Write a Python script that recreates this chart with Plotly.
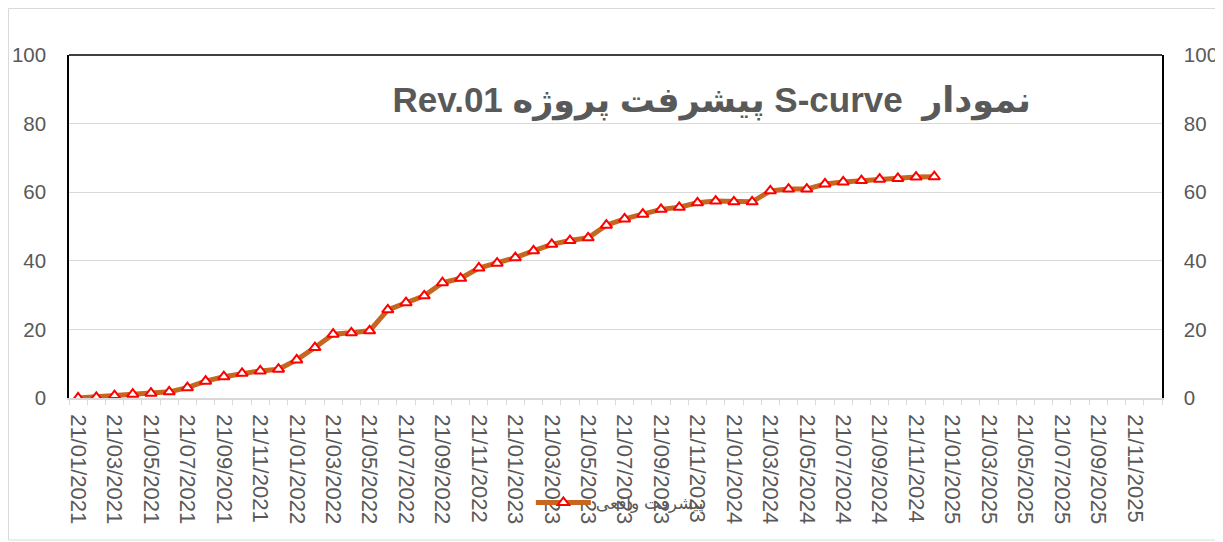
import plotly.graph_objects as go

# Monthly categories (21st of each month), Jan 2021 .. Dec 2025
years = [2021, 2022, 2023, 2024, 2025]
month_nums = ["01", "02", "03", "04", "05", "06", "07", "08", "09", "10", "11", "12"]
months = [f"21/{m}/{y}" for y in years for m in month_nums]

# Actual progress (%), Jan 2021 .. Dec 2024
actual_progress = [0.0, 0.2, 0.7, 1.1, 1.4, 1.8, 3.0, 4.9, 6.2, 7.2, 7.9, 8.4,
                   11.1, 14.7, 18.6, 19.0, 19.6, 25.7, 27.8, 29.8, 33.6, 34.9, 37.9, 39.3,
                   40.9, 42.9, 44.8, 45.9, 46.7, 50.4, 52.2, 53.6, 55.0, 55.6, 56.9, 57.4,
                   57.2, 57.2, 60.4, 60.9, 60.9, 62.4, 63.0, 63.4, 63.8, 64.0, 64.4, 64.5]

series_name = "پیشرفت واقعی"
title_text = "\u202Bنمودار  S-curve پیشرفت پروژه Rev.01\u202C"
y_ticks = [0, 20, 40, 60, 80, 100]

FONT = "Liberation Sans, DejaVu Sans, Arial, sans-serif"
GRAY_TXT = "#595959"
GRID = "#d9d9d9"

fig = go.Figure()
fig.add_trace(go.Scatter(
    x=months[:len(actual_progress)], y=actual_progress, name=series_name,
    mode="lines+markers",
    line=dict(color="#C66620", width=5),
    marker=dict(symbol="triangle-up", size=10, color="white",
                line=dict(color="#FF0000", width=2)),
))
# invisible trace to carry the secondary axis
fig.add_trace(go.Scatter(x=[months[0]], y=[0], yaxis="y2", showlegend=False,
                         mode="markers", marker=dict(opacity=0), hoverinfo="skip"))

fig.update_layout(
    width=1215, height=534, autosize=False,
    margin=dict(l=61, r=61, t=47, b=144, autoexpand=False),
    paper_bgcolor="white", plot_bgcolor="white",
    font=dict(family=FONT, color=GRAY_TXT),
    title=dict(text=title_text, x=0.588, xref="paper", xanchor="center",
               y=0.869, yref="paper", yanchor="middle",
               font=dict(size=35, color=GRAY_TXT, family=FONT, weight="bold")),
    xaxis=dict(type="category", categoryorder="array", categoryarray=months,
               range=[-0.5, len(months) - 0.5], tickangle=90, automargin=False,
               tickmode="linear", tick0=0, dtick=1, ticklabelstep=2,
               tickson="boundaries", ticks="outside", ticklen=5, tickcolor=GRID,
               ticklabelstandoff=10,
               showline=True, linecolor=GRID, linewidth=1.5, showgrid=False,
               tickfont=dict(size=22, color=GRAY_TXT)),
    yaxis=dict(range=[0, 100], tickvals=y_ticks, showgrid=True, gridcolor=GRID,
               gridwidth=1, zeroline=False, showline=True, linecolor="black",
               linewidth=1.5, ticks="outside", ticklen=17, tickcolor="rgba(0,0,0,0)",
               automargin=False, tickfont=dict(size=20.5, color=GRAY_TXT)),
    yaxis2=dict(range=[0, 100], tickvals=y_ticks, overlaying="y", side="right",
                showgrid=False, zeroline=False, showline=True, linecolor="black",
                linewidth=1.5, ticks="outside", ticklen=16, tickcolor="rgba(0,0,0,0)",
                automargin=False, tickfont=dict(size=20.5, color=GRAY_TXT)),
    legend=dict(orientation="h", x=0.504, xanchor="center", y=-0.306, yanchor="middle",
                bgcolor="rgba(0,0,0,0)", font=dict(size=17, color=GRAY_TXT),
                itemwidth=55),
    showlegend=True,
    shapes=[
        dict(type="line", xref="paper", yref="paper", x0=0, x1=1, y0=1, y1=1,
             line=dict(color="black", width=1.5)),
        dict(type="rect", xref="paper", yref="paper",
             x0=(8.5 - 69) / 1093, x1=(1220 - 69) / 1093,
             y0=(398 - 540) / 343, y1=(398 - 8.5) / 343,
             line=dict(color=GRID, width=1), fillcolor="rgba(0,0,0,0)", layer="below"),
    ],
)

fig.write_html("out.html")
